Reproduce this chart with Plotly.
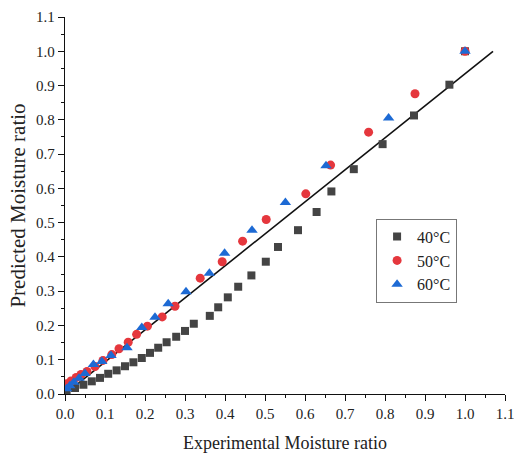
import plotly.graph_objects as go

# 40 °C
x40 = [0.004, 0.025, 0.046, 0.067, 0.0875, 0.108, 0.129, 0.150, 0.171, 0.192, 0.2125, 0.233,
       0.254, 0.278, 0.300, 0.322, 0.362, 0.383, 0.407, 0.433, 0.466, 0.502, 0.5325, 0.5825,
       0.629, 0.666, 0.722, 0.794, 0.8725, 0.961, 1.0]
y40 = [0.007, 0.0175, 0.027, 0.037, 0.047, 0.059, 0.069, 0.081, 0.0925, 0.105, 0.120, 0.135,
       0.151, 0.167, 0.184, 0.205, 0.228, 0.253, 0.282, 0.313, 0.346, 0.386, 0.429, 0.478,
       0.531, 0.591, 0.656, 0.729, 0.8127, 0.9025, 1.0]

# 50 °C
x50 = [0.004, 0.015, 0.028, 0.040, 0.055, 0.075, 0.095, 0.117, 0.135, 0.158, 0.179, 0.206,
       0.243, 0.275, 0.338, 0.393, 0.444, 0.503, 0.602, 0.664, 0.759, 0.875, 1.0]
y50 = [0.030, 0.038, 0.048, 0.057, 0.066, 0.080, 0.098, 0.115, 0.132, 0.151, 0.174, 0.198,
       0.225, 0.256, 0.338, 0.386, 0.446, 0.509, 0.584, 0.668, 0.764, 0.876, 1.0]

# 60 °C
x60 = [0.004, 0.012, 0.022, 0.035, 0.050, 0.071, 0.092, 0.115, 0.155, 0.192, 0.225, 0.258,
       0.3025, 0.361, 0.399, 0.4675, 0.551, 0.6525, 0.809, 1.0]
y60 = [0.015, 0.024, 0.034, 0.046, 0.060, 0.086, 0.095, 0.112, 0.135, 0.194, 0.224, 0.263,
       0.2985, 0.352, 0.411, 0.478, 0.559, 0.666, 0.805, 1.0]

# fitted line
line_x = [0.0, 1.07]
line_y = [0.0, 1.0]

tick_vals = [0.0, 0.1, 0.2, 0.3, 0.4, 0.5, 0.6, 0.7, 0.8, 0.9, 1.0, 1.1]
tick_text = ["0.0", "0.1", "0.2", "0.3", "0.4", "0.5", "0.6", "0.7", "0.8", "0.9", "1.0", "1.1"]

serif = "Liberation Serif, Times New Roman, serif"

fig = go.Figure()
fig.add_trace(go.Scatter(x=line_x, y=line_y, mode="lines",
                         line=dict(color="#111111", width=1.6), showlegend=False))
fig.add_trace(go.Scatter(x=x40, y=y40, mode="markers", name="40°C",
                         marker=dict(symbol="square", size=8, color="#444444")))
fig.add_trace(go.Scatter(x=x50, y=y50, mode="markers", name="50°C",
                         marker=dict(symbol="circle", size=9, color="#E5373D")))
fig.add_trace(go.Scatter(x=x60, y=y60, mode="markers", name="60°C",
                         marker=dict(symbol="triangle-up", size=10, color="#1D6AD4")))

axis_common = dict(
    range=[0, 1.1], tickvals=tick_vals, ticktext=tick_text,
    showline=True, linecolor="#111111", linewidth=1.3,
    ticks="outside", ticklen=6, tickwidth=1.3, tickcolor="#111111",
    minor=dict(ticks="outside", ticklen=3, tickwidth=1.1, tickcolor="#111111", dtick=0.05, tick0=0),
    showgrid=False, zeroline=False, automargin=False, ticklabeloverflow="allow",
    tickfont=dict(family=serif, size=15, color="#222222"),
)

fig.update_layout(
    width=514, height=455,
    margin=dict(l=65, r=9, t=17, b=61),
    paper_bgcolor="white", plot_bgcolor="white",
    xaxis=dict(**axis_common,
               title=dict(text="Experimental Moisture ratio",
                          font=dict(family=serif, size=18, color="#222222"))),
    yaxis=dict(**axis_common,
               title=dict(text="Predicted Moisture ratio", standoff=4,
                          font=dict(family=serif, size=21, color="#222222"))),
    legend=dict(x=0.707, y=0.465, xanchor="left", yanchor="top",
                bordercolor="#777777", borderwidth=1, bgcolor="white",
                font=dict(family=serif, size=16, color="#222222"),
                itemwidth=30, tracegroupgap=0),
    showlegend=True,
)

fig.write_html("out.html", config={"displayModeBar": False},
               post_script="document.body.style.margin='0px';")
